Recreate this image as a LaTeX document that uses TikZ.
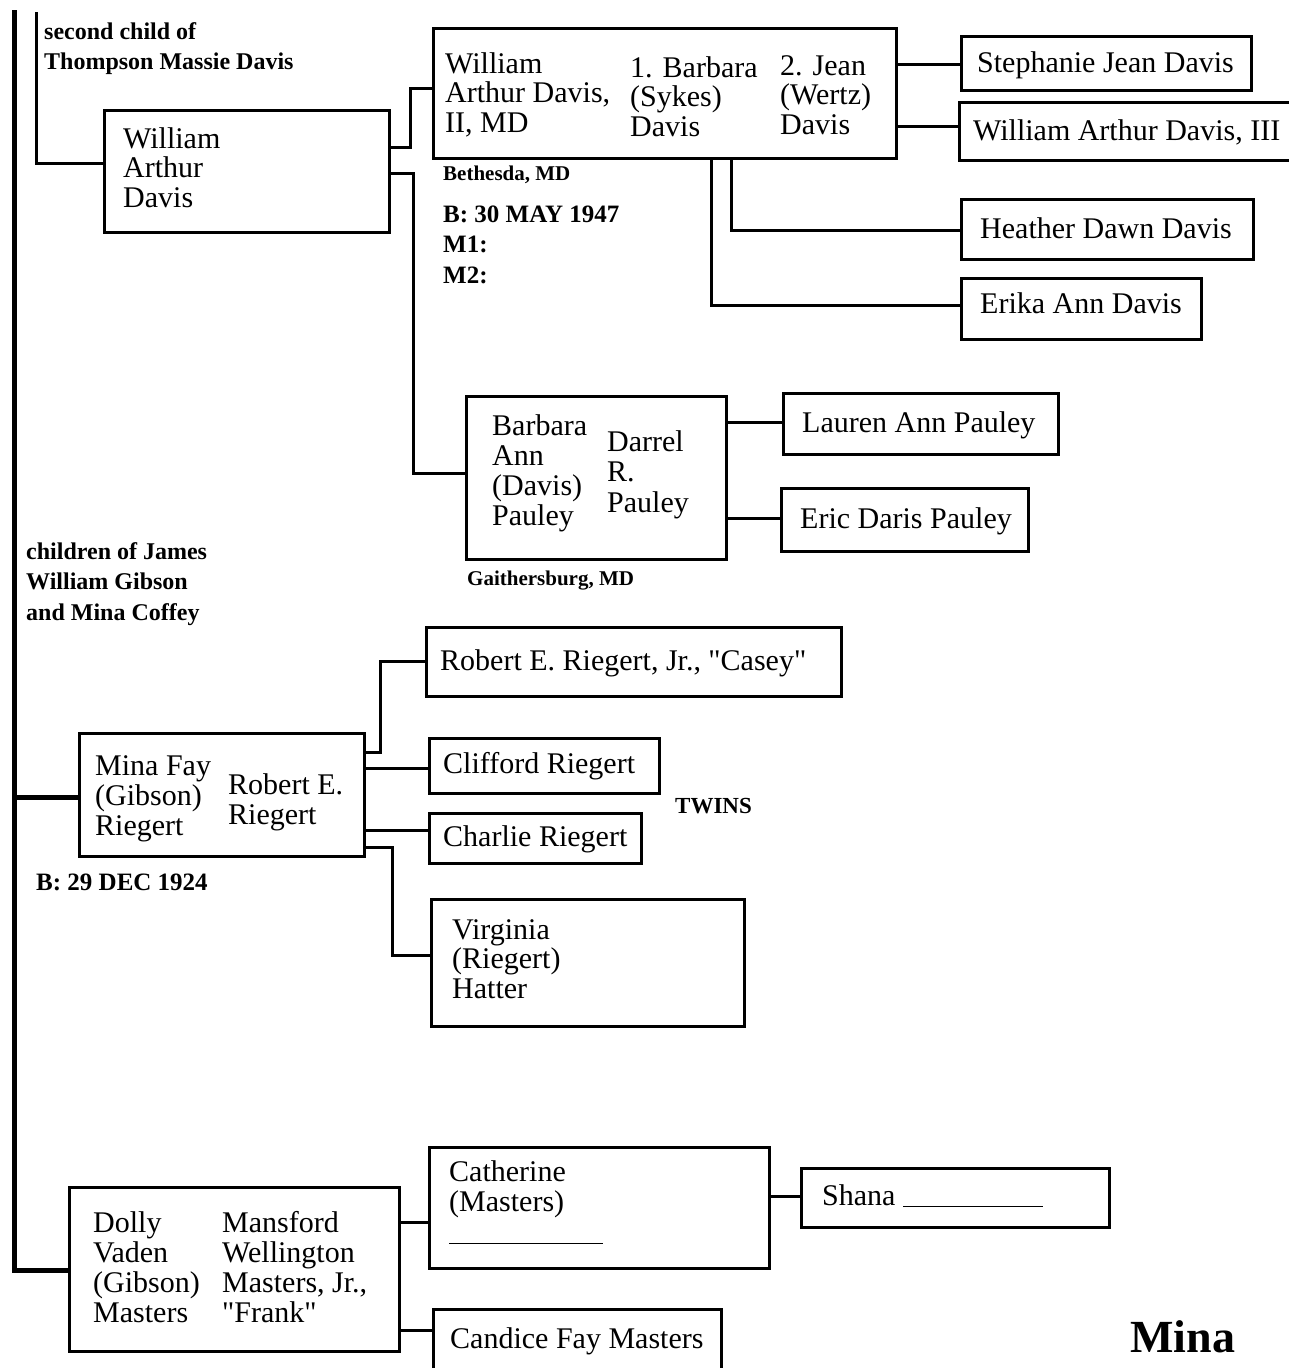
\documentclass[tikz,border=0pt]{standalone}
\usepackage{fontspec}
\setmainfont{Liberation Serif}[Ligatures=TeXOff]
\newcommand\Rz{\rule{0pt}{24pt}}
\begin{document}
\begin{tikzpicture}[x=1pt,y=-1pt,
 box/.style={draw, line width=3pt, inner sep=0pt, anchor=north west},
 conn/.style={line width=3pt},
 trunk/.style={line width=5pt},
 txt/.style={anchor=north west, inner sep=0pt, align=left, font=\fontsize{30}{29.5}\selectfont},
 stxt/.style={txt, font=\fontsize{24}{30.5}\selectfont\bfseries},
 xtxt/.style={txt, font=\fontsize{21}{26}\selectfont\bfseries},
 btxt/.style={anchor=base west, inner sep=0pt, font=\fontsize{46}{50}\selectfont\bfseries}]
\useasboundingbox (0,0) rectangle (1289,1368);
\clip (0,0) rectangle (1289,1368);
% boxes
\node[box, minimum width=285pt, minimum height=122pt] (wad) at (103,109) {};
\node[box, minimum width=463pt, minimum height=130pt] (wad2) at (432,27) {};
\node[box, minimum width=290pt, minimum height=54pt] (steph) at (960,35) {};
\node[box, minimum width=342pt, minimum height=58pt] (wad3) at (958,101) {};
\node[box, minimum width=292pt, minimum height=60pt] (heather) at (960,198) {};
\node[box, minimum width=240pt, minimum height=61pt] (erika) at (960,277) {};
\node[box, minimum width=260pt, minimum height=163pt] (pauley) at (465,395) {};
\node[box, minimum width=275pt, minimum height=61pt] (lauren) at (782,392) {};
\node[box, minimum width=247pt, minimum height=63pt] (eric) at (780,487) {};
\node[box, minimum width=415pt, minimum height=69pt] (rjr) at (425,626) {};
\node[box, minimum width=230pt, minimum height=55pt] (cliff) at (428,737) {};
\node[box, minimum width=212pt, minimum height=50pt] (charlie) at (428,812) {};
\node[box, minimum width=285pt, minimum height=123pt] (mina) at (78,732) {};
\node[box, minimum width=313pt, minimum height=127pt] (virg) at (430,898) {};
\node[box, minimum width=330pt, minimum height=164pt] (dolly) at (68,1186) {};
\node[box, minimum width=340pt, minimum height=121pt] (cath) at (428,1146) {};
\node[box, minimum width=288pt, minimum height=72pt] (candice) at (432,1308) {};
\node[box, minimum width=308pt, minimum height=59pt] (shana) at (800,1167) {};
% connectors
\coordinate (trunktop) at (14,10);
\coordinate (thintop) at (36,12);
\draw[trunk] (trunktop) |- (dolly.west |- 0,1270);
\draw[trunk] (trunktop |- 0,797) -- (mina.west |- 0,797);
\draw[conn] (thintop) |- (wad.west |- 0,163);
\draw[conn] (wad.east |- 0,147) -- (410,147) |- (wad2.west |- 0,88);
\draw[conn] (wad.east |- 0,173) -- (413,173) |- (pauley.west |- 0,473);
\draw[conn] (wad2.east |- 0,64) -- (steph.west |- 0,64);
\draw[conn] (wad2.east |- 0,126) -- (wad3.west |- 0,126);
\draw[conn] ([xshift=66.5pt]wad2.south) |- (heather.west |- 0,230);
\draw[conn] ([xshift=46.5pt]wad2.south) |- (erika.west |- 0,305);
\draw[conn] (pauley.east |- 0,422) -- (lauren.west |- 0,422);
\draw[conn] (pauley.east |- 0,518) -- (eric.west |- 0,518);
\draw[conn] (mina.east |- 0,752) -- (380,752) |- (rjr.west |- 0,661);
\draw[conn] (mina.east |- 0,768) -- (cliff.west |- 0,768);
\draw[conn] (mina.east |- 0,830) -- (charlie.west |- 0,830);
\draw[conn] (mina.east |- 0,847) -- (392,847) |- (virg.west |- 0,955);
\draw[conn] (dolly.east |- 0,1222) -- (cath.west |- 0,1222);
\draw[conn] (dolly.east |- 0,1330) -- (candice.west |- 0,1330);
\draw[conn] (cath.east |- 0,1196) -- (shana.west |- 0,1196);
% texts
\node[stxt] (t-second) at (44,15) {\Rz second child of\\Thompson Massie Davis};
\node[txt] (t-wad) at (123,124) {\Rz William\\Arthur\\Davis};
\node[txt] (t-wad2a) at (445,49) {\Rz William\\Arthur Davis,\\II, MD};
\node[txt] (t-wad2b) at (630,53) {\Rz 1. Barbara\\(Sykes)\\Davis};
\node[txt] (t-wad2c) at (780,51) {\Rz 2. Jean\\(Wertz)\\Davis};
\node[xtxt] (t-beth) at (443,156) {\Rz Bethesda, MD};
\node[stxt, font=\fontsize{25}{30.5}\selectfont\bfseries] (t-b1947) at (443,198) {\Rz B: 30 MAY 1947\\M1:\\M2:};
\node[txt] (t-steph) at (977,48) {\Rz Stephanie Jean Davis};
\node[txt] (t-wad3) at (973,116) {\Rz William Arthur Davis, III};
\node[txt] (t-heather) at (980,214) {\Rz Heather Dawn Davis};
\node[txt] (t-erika) at (980,289) {\Rz Erika Ann Davis};
\node[txt, font=\fontsize{30}{30}\selectfont] (t-paua) at (492,411) {\Rz Barbara\\Ann\\(Davis)\\Pauley};
\node[txt, font=\fontsize{30}{30.5}\selectfont] (t-paub) at (607,427) {\Rz Darrel\\R.\\Pauley};
\node[txt] (t-lauren) at (802,408) {\Rz Lauren Ann Pauley};
\node[txt] (t-eric) at (800,504) {\Rz Eric Daris Pauley};
\node[xtxt] (t-gaith) at (467,561) {\Rz Gaithersburg, MD};
\node[stxt] (t-children) at (26,535) {\Rz children of James\\William Gibson\\and Mina Coffey};
\node[txt] (t-rjr) at (440,646) {\Rz Robert E. Riegert, Jr., "Casey"};
\node[txt] (t-cliff) at (443,749) {\Rz Clifford Riegert};
\node[txt] (t-charlie) at (443,822) {\Rz Charlie Riegert};
\node[txt, font=\fontsize{30}{30}\selectfont] (t-minaa) at (95,751) {\Rz Mina Fay\\(Gibson)\\Riegert};
\node[txt, font=\fontsize{30}{30}\selectfont] (t-minab) at (228,770) {\Rz Robert E.\\Riegert};
\node[stxt, font=\fontsize{25}{30}\selectfont\bfseries] (t-b1924) at (36,866) {\Rz B: 29 DEC 1924};
\node[stxt, font=\fontsize{23}{28}\selectfont\bfseries] (t-twins) at (675,789) {\Rz TWINS};
\node[txt, font=\fontsize{30}{29.5}\selectfont] (t-virg) at (452,915) {\Rz Virginia\\(Riegert)\\Hatter};
\node[txt, font=\fontsize{30}{30}\selectfont] (t-dollya) at (93,1208) {\Rz Dolly\\Vaden\\(Gibson)\\Masters};
\node[txt, font=\fontsize{30}{30}\selectfont] (t-dollyb) at (222,1208) {\Rz Mansford\\Wellington\\Masters, Jr.,\\"Frank"};
\node[txt, font=\fontsize{30}{30}\selectfont] (t-cath) at (449,1157) {\Rz Catherine\\(Masters)\\\rule[-3pt]{154pt}{1.5pt}};
\node[txt] (t-candice) at (450,1324) {\Rz Candice Fay Masters};
\node[txt] (t-shana) at (822,1181) {\Rz Shana \rule[-2pt]{140pt}{1.5pt}};
\node[btxt] (t-mina) at (1130,1352) {Mina};
\end{tikzpicture}
\end{document}
